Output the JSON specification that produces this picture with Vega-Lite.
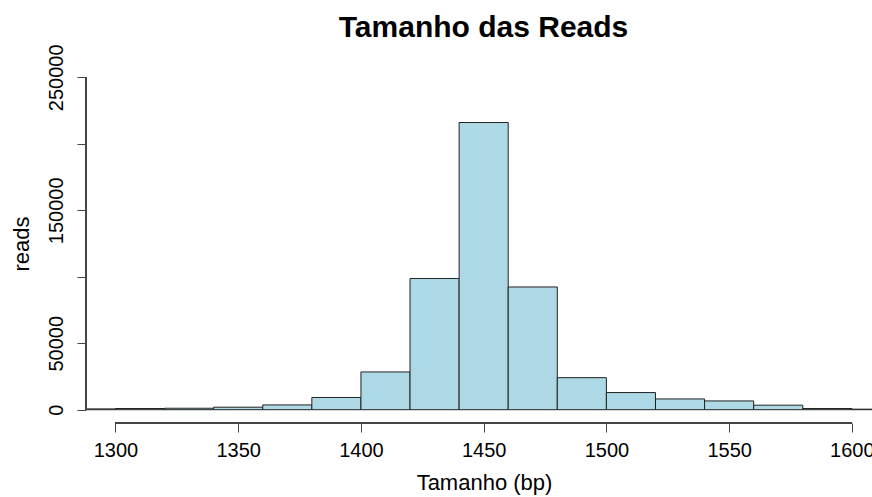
{
  "$schema": "https://vega.github.io/schema/vega-lite/v6.json",
  "width": 786,
  "height": 359,
  "autosize": "none",
  "padding": {"left": 86, "top": 64, "right": 0, "bottom": 74},
  "background": "white",
  "config": {"view": {"stroke": null}, "font": "Liberation Sans"},
  "title": {
    "text": "Tamanho das Reads",
    "font": "Liberation Sans",
    "fontSize": 30,
    "fontWeight": "bold",
    "color": "black",
    "anchor": "middle",
    "baseline": "alphabetic",
    "offset": 5,
    "dx": 4.5,
    "dy": 28
  },
  "data": {
    "values": [
      {"start": 1280, "end": 1300, "reads": 600},
      {"start": 1300, "end": 1320, "reads": 900},
      {"start": 1320, "end": 1340, "reads": 1100},
      {"start": 1340, "end": 1360, "reads": 1900},
      {"start": 1360, "end": 1380, "reads": 3600},
      {"start": 1380, "end": 1400, "reads": 9200},
      {"start": 1400, "end": 1420, "reads": 28400},
      {"start": 1420, "end": 1440, "reads": 98700},
      {"start": 1440, "end": 1460, "reads": 216000},
      {"start": 1460, "end": 1480, "reads": 92300},
      {"start": 1480, "end": 1500, "reads": 24100},
      {"start": 1500, "end": 1520, "reads": 12900},
      {"start": 1520, "end": 1540, "reads": 8100},
      {"start": 1540, "end": 1560, "reads": 6600},
      {"start": 1560, "end": 1580, "reads": 3400},
      {"start": 1580, "end": 1600, "reads": 900},
      {"start": 1600, "end": 1620, "reads": 400}
    ]
  },
  "layer": [
    {
      "mark": {"type": "bar", "fill": "#ADD8E6", "stroke": "#222222", "strokeWidth": 1, "clip": true},
      "encoding": {
        "x": {
          "field": "start",
          "type": "quantitative",
          "scale": {"domain": [1288, 1608.2], "nice": false, "zero": false},
          "axis": {
            "title": "Tamanho (bp)",
            "values": [1300, 1350, 1400, 1450, 1500, 1550, 1600],
            "format": "d",
            "domain": false,
            "grid": false,
            "tickSize": 9,
            "tickColor": "#444444",
            "labelFont": "Liberation Sans",
            "labelFontSize": 20,
            "labelColor": "black",
            "labelAlign": "center",
            "labelBaseline": "top",
            "labelPadding": 8,
            "labelFlush": false,
            "labelOverlap": false,
            "titleFont": "Liberation Sans",
            "titleFontSize": 22,
            "titleFontWeight": "normal",
            "titleColor": "black",
            "titleBaseline": "alphabetic",
            "titleAlign": "center",
            "titleX": 398,
            "titleY": 66
          }
        },
        "x2": {"field": "end"},
        "y": {
          "field": "reads",
          "type": "quantitative",
          "scale": {"domain": [-10000, 260000], "nice": false, "zero": false},
          "axis": {
            "title": "reads",
            "values": [0, 50000, 100000, 150000, 200000, 250000],
            "format": "d",
            "labelExpr": "datum.value == 100000 || datum.value == 200000 ? '' : datum.label",
            "domain": false,
            "grid": false,
            "tickSize": 9,
            "tickColor": "#444444",
            "labelFont": "Liberation Sans",
            "labelFontSize": 20,
            "labelColor": "black",
            "labelAngle": 270,
            "labelAlign": "center",
            "labelBaseline": "alphabetic",
            "labelPadding": 15,
            "labelFlush": false,
            "labelOverlap": false,
            "titleFont": "Liberation Sans",
            "titleFontSize": 22,
            "titleFontWeight": "normal",
            "titleColor": "black",
            "titleAngle": 270,
            "titleBaseline": "alphabetic",
            "titleAlign": "center",
            "titleX": -58,
            "titleY": 179.5
          }
        },
        "y2": {"datum": 0}
      }
    },
    {
      "mark": {"type": "rule", "color": "#444444", "strokeWidth": 1},
      "encoding": {
        "x": {"datum": 1300, "type": "quantitative"},
        "x2": {"datum": 1600},
        "y": {"datum": -10000, "type": "quantitative"}
      }
    },
    {
      "mark": {"type": "rule", "color": "#444444", "strokeWidth": 1},
      "encoding": {
        "x": {"datum": 1288, "type": "quantitative"},
        "y": {"datum": 0, "type": "quantitative"},
        "y2": {"datum": 250000}
      }
    }
  ]
}
